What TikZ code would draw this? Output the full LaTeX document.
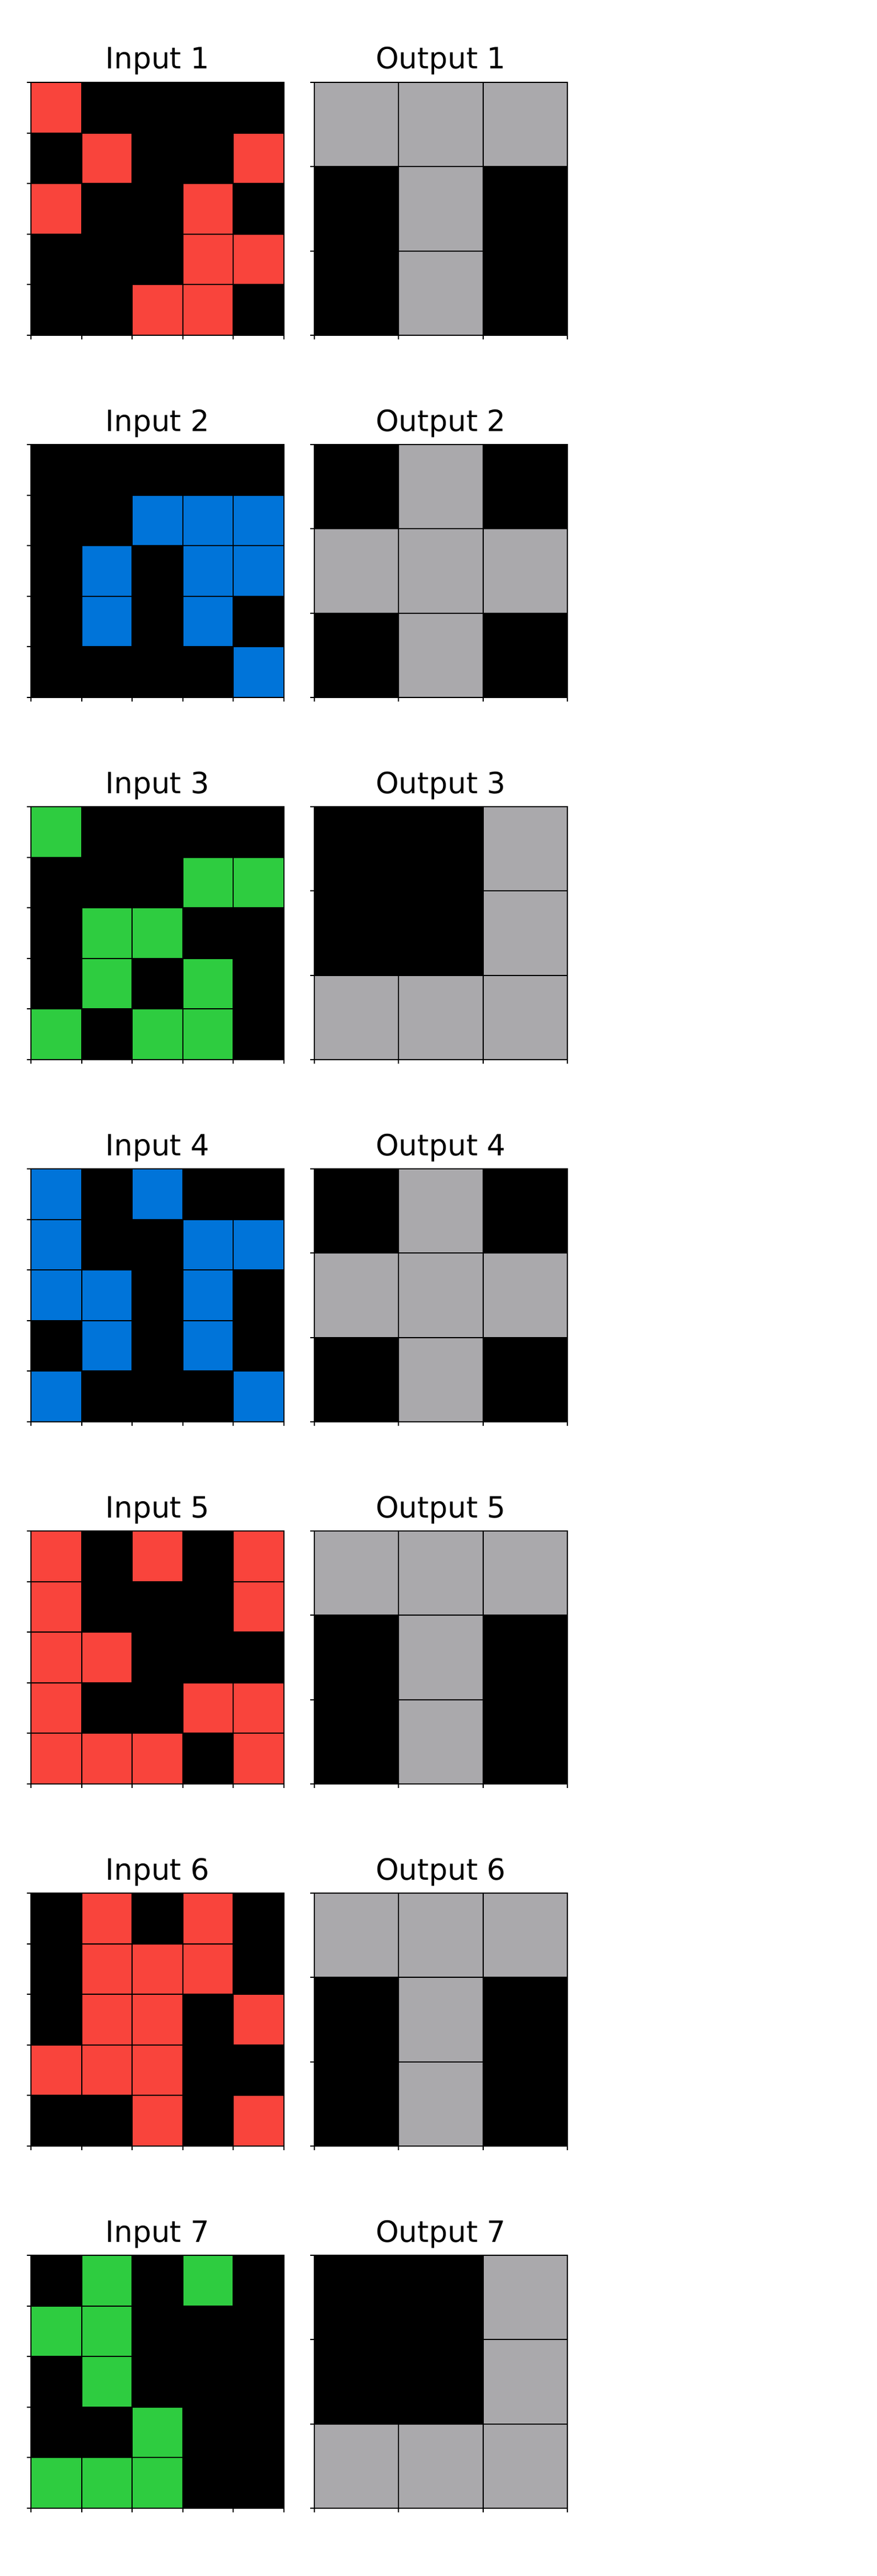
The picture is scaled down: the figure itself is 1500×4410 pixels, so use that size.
\documentclass[tikz,border=0pt]{standalone}
\usepackage{fontspec}
\setmainfont{DejaVu Sans}
\definecolor{c0}{HTML}{000000}
\definecolor{c1}{HTML}{0074D9}
\definecolor{c2}{HTML}{F9443C}
\definecolor{c3}{HTML}{2ECC40}
\definecolor{c5}{HTML}{AAA9AC}
\tikzset{
  paneltitle/.style={anchor=base, inner sep=0pt, outer sep=0pt, font=\fontsize{25.1}{30}\selectfont},
  gridline/.style={line width=1pt, black},
  gridborder/.style={line width=1.3pt, black},
  tickmark/.style={line width=1pt, black},
}
% #1 x0, #2 y0 (top), #3 n, #4 rows
\newcommand\arcpanel[4]{%
  \pgfmathsetmacro\arccell{433/#3}%
  \pgfmathtruncatemacro\arcm{#3-1}%
  \foreach \rowdata [count=\i from 0] in {#4} {
    \foreach \v [count=\j from 0] in \rowdata {
      \fill[fill=c\v] ({#1+\j*\arccell},{#2+\i*\arccell}) rectangle ++(\arccell,\arccell);
    }
  }
  \foreach \k in {1,...,\arcm} {
    \draw[gridline] ({#1+\k*\arccell},#2) -- ++(0,433);
    \draw[gridline] (#1,{#2+\k*\arccell}) -- ++(433,0);
  }
  \draw[gridborder] (#1,#2) rectangle ++(433,433);
  \foreach \k in {0,...,#3} {
    \draw[tickmark] (#1,{#2+\k*\arccell}) -- ++(-7,0);
    \draw[tickmark] ({#1+\k*\arccell},{#2+433}) -- ++(0,7);
  }
}
\begin{document}
\begin{tikzpicture}[x=0.5pt,y=-0.5pt]
\fill[white] (0,0) rectangle (1500,4410);
\useasboundingbox (0,0) rectangle (1500,4410);

% Row 1
\node[paneltitle] (tin1) at (269.5,118) {Input 1};
\node[paneltitle] (tout1) at (754.5,118) {Output 1};
\arcpanel{53}{141}{5}{{2,0,0,0,0},{0,2,0,0,2},{2,0,0,2,0},{0,0,0,2,2},{0,0,2,2,0}}
\arcpanel{538}{141}{3}{{5,5,5},{0,5,0},{0,5,0}}

% Row 2
\node[paneltitle] (tin2) at (269.5,738) {Input 2};
\node[paneltitle] (tout2) at (754.5,738) {Output 2};
\arcpanel{53}{761}{5}{{0,0,0,0,0},{0,0,1,1,1},{0,1,0,1,1},{0,1,0,1,0},{0,0,0,0,1}}
\arcpanel{538}{761}{3}{{0,5,0},{5,5,5},{0,5,0}}

% Row 3
\node[paneltitle] (tin3) at (269.5,1358) {Input 3};
\node[paneltitle] (tout3) at (754.5,1358) {Output 3};
\arcpanel{53}{1381}{5}{{3,0,0,0,0},{0,0,0,3,3},{0,3,3,0,0},{0,3,0,3,0},{3,0,3,3,0}}
\arcpanel{538}{1381}{3}{{0,0,5},{0,0,5},{5,5,5}}

% Row 4
\node[paneltitle] (tin4) at (269.5,1978) {Input 4};
\node[paneltitle] (tout4) at (754.5,1978) {Output 4};
\arcpanel{53}{2001}{5}{{1,0,1,0,0},{1,0,0,1,1},{1,1,0,1,0},{0,1,0,1,0},{1,0,0,0,1}}
\arcpanel{538}{2001}{3}{{0,5,0},{5,5,5},{0,5,0}}

% Row 5
\node[paneltitle] (tin5) at (269.5,2598) {Input 5};
\node[paneltitle] (tout5) at (754.5,2598) {Output 5};
\arcpanel{53}{2621}{5}{{2,0,2,0,2},{2,0,0,0,2},{2,2,0,0,0},{2,0,0,2,2},{2,2,2,0,2}}
\arcpanel{538}{2621}{3}{{5,5,5},{0,5,0},{0,5,0}}

% Row 6
\node[paneltitle] (tin6) at (269.5,3218) {Input 6};
\node[paneltitle] (tout6) at (754.5,3218) {Output 6};
\arcpanel{53}{3241}{5}{{0,2,0,2,0},{0,2,2,2,0},{0,2,2,0,2},{2,2,2,0,0},{0,0,2,0,2}}
\arcpanel{538}{3241}{3}{{5,5,5},{0,5,0},{0,5,0}}

% Row 7
\node[paneltitle] (tin7) at (269.5,3838) {Input 7};
\node[paneltitle] (tout7) at (754.5,3838) {Output 7};
\arcpanel{53}{3861}{5}{{0,3,0,3,0},{3,3,0,0,0},{0,3,0,0,0},{0,0,3,0,0},{3,3,3,0,0}}
\arcpanel{538}{3861}{3}{{0,0,5},{0,0,5},{5,5,5}}
\end{tikzpicture}
\end{document}
